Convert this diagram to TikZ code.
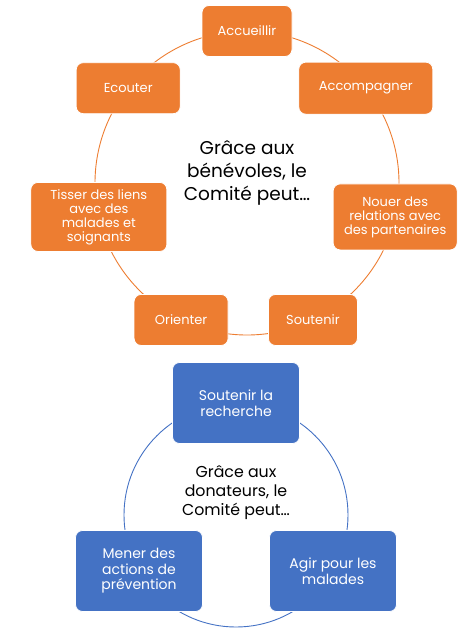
\documentclass[tikz,border=0pt]{standalone}
\usepackage{fontspec}
\setmainfont{Poppins}
\usepackage{tikz}
\usetikzlibrary{calc}

\definecolor{benorange}{HTML}{ED7D31}
\definecolor{donblue}{HTML}{4472C4}

\begin{document}
\begin{tikzpicture}[x=1pt, y=1pt,
  box/.style={rectangle, draw=white, line width=0.8pt, rounded corners=7pt,
    align=center, text=white, inner sep=2pt},
  obox/.style={box, fill=benorange, font=\fontsize{13}{14}\selectfont},
  bbox/.style={box, fill=donblue, font=\fontsize{14}{15.5}\selectfont,
    minimum width=127pt, minimum height=81pt},
  ring/.style={line width=0.9pt}
]
\useasboundingbox (0,0) rectangle (462,-638);
\coordinate (benc) at (247,-183);
\coordinate (donc) at (236,-515);

% cercle des benevoles
\draw[ring, benorange] (benc) circle (152);
\node[font=\fontsize{18.5}{23}\selectfont, align=center] (bentxt) at ($(benc)+(0,10)$)
  {Grâce aux\\bénévoles, le\\Comité peut…};

\node[obox, minimum width=90pt, minimum height=51pt] (accueil) at ($(benc)+(90:152)$) {Accueillir};
\node[obox, minimum width=104pt, minimum height=51pt] (ecoute) at ($(benc)+(141.4:152)$) {Ecouter};
\node[obox, minimum width=134pt, minimum height=52pt] (accomp) at ($(benc)+(38.6:152)$) {Accompagner};
\node[obox, minimum width=136pt, minimum height=69pt] (tisser) at ($(benc)+(192.9:152)$)
  {Tisser des liens\\avec des\\malades et\\soignants};
\node[obox, minimum width=124pt, minimum height=66pt] (nouer) at ($(benc)+(347.1:152)$)
  {Nouer des\\relations avec\\des partenaires};
\node[obox, minimum width=94pt, minimum height=51pt] (orient) at ($(benc)+(244.3:152)$) {Orienter};
\node[obox, minimum width=89pt, minimum height=51pt] (soutien) at ($(benc)+(295.7:152)$) {Soutenir};

% cercle des donateurs
\draw[ring, donblue] (donc) circle (112);
\node[font=\fontsize{15.8}{19}\selectfont, align=center] (dontxt) at ($(donc)+(0,22)$)
  {Grâce aux\\donateurs, le\\Comité peut…};

\node[bbox] (recherche) at ($(donc)+(90:112)$) {Soutenir la\\recherche};
\node[bbox] (prevent) at ($(donc)+(210:112)$) {Mener des\\actions de\\prévention};
\node[bbox] (malades) at ($(donc)+(330:112)$) {Agir pour les\\malades};
\end{tikzpicture}
\end{document}
